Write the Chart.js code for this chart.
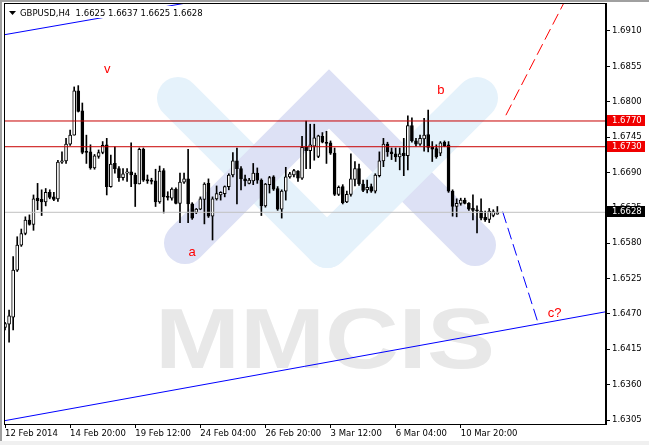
<!DOCTYPE html>
<html>
<head>
<meta charset="utf-8">
<script src="https://cdn.jsdelivr.net/npm/chart.js@4.4.1/dist/chart.umd.min.js"></script>
<style>
  html, body { margin: 0; padding: 0; background: #fff; }
  #wrap { width: 649px; height: 445px; position: relative; }
</style>
</head>
<body>
<div id="wrap"><canvas id="chart"></canvas></div>
<script>
const symbol = 'GBPUSD,H4';
const lastBar = [1.6625, 1.6637, 1.6625, 1.6628];

// H4 bars, oldest first
const opens = [
  1.6449, 1.6454, 1.6465, 1.6538, 1.6577, 1.6595, 1.6616, 1.6609, 1.6650, 1.6648,
  1.6644, 1.6659, 1.6652, 1.6649, 1.6706, 1.6708, 1.6734, 1.6748, 1.6817, 1.6786,
  1.6723, 1.6722, 1.6697, 1.6715, 1.6721, 1.6733, 1.6668, 1.6704, 1.6696, 1.6682,
  1.6689, 1.6691, 1.6686, 1.6672, 1.6726, 1.6679, 1.6678, 1.6677, 1.6644, 1.6693,
  1.6653, 1.6650, 1.6664, 1.6642, 1.6675, 1.6680, 1.6641, 1.6628, 1.6633, 1.6648,
  1.6673, 1.6622, 1.6649, 1.6655, 1.6657, 1.6668, 1.6686, 1.6708, 1.6696, 1.6680,
  1.6673, 1.6677, 1.6689, 1.6678, 1.6638, 1.6671, 1.6683, 1.6665, 1.6633, 1.6661,
  1.6683, 1.6686, 1.6692, 1.6681, 1.6730, 1.6724, 1.6731, 1.6715, 1.6746, 1.6737,
  1.6736, 1.6720, 1.6656, 1.6668, 1.6644, 1.6656, 1.6679, 1.6696, 1.6672, 1.6663,
  1.6668, 1.6661, 1.6685, 1.6708, 1.6734, 1.6722, 1.6719, 1.6714, 1.6720, 1.6716,
  1.6763, 1.6739, 1.6734, 1.6742, 1.6749, 1.6729, 1.6727, 1.6720, 1.6737, 1.6733,
  1.6661, 1.6637, 1.6642, 1.6647, 1.6642, 1.6634, 1.6632, 1.6630, 1.6620, 1.6617,
  1.6623, 1.6625
];
const highs = [
  1.6457, 1.6476, 1.6559, 1.6590, 1.6602, 1.6621, 1.6624, 1.6655, 1.6673, 1.6663,
  1.6665, 1.6663, 1.6659, 1.6709, 1.6722, 1.6743, 1.6756, 1.6823, 1.6825, 1.6798,
  1.6748, 1.6733, 1.6718, 1.6725, 1.6738, 1.6743, 1.6717, 1.6730, 1.6699, 1.6696,
  1.6696, 1.6736, 1.6689, 1.6728, 1.6728, 1.6686, 1.6681, 1.6695, 1.6700, 1.6696,
  1.6660, 1.6666, 1.6666, 1.6689, 1.6689, 1.6726, 1.6643, 1.6634, 1.6652, 1.6674,
  1.6680, 1.6652, 1.6669, 1.6660, 1.6669, 1.6688, 1.6721, 1.6728, 1.6699, 1.6686,
  1.6681, 1.6704, 1.6697, 1.6680, 1.6673, 1.6684, 1.6685, 1.6668, 1.6663, 1.6698,
  1.6690, 1.6695, 1.6693, 1.6746, 1.6770, 1.6765, 1.6765, 1.6748, 1.6752, 1.6754,
  1.6739, 1.6728, 1.6669, 1.6671, 1.6661, 1.6719, 1.6707, 1.6703, 1.6678, 1.6678,
  1.6672, 1.6688, 1.6722, 1.6743, 1.6737, 1.6728, 1.6728, 1.6728, 1.6743, 1.6778,
  1.6775, 1.6743, 1.6748, 1.6774, 1.6787, 1.6738, 1.6733, 1.6738, 1.6739, 1.6738,
  1.6663, 1.6649, 1.6650, 1.6650, 1.6643, 1.6655, 1.6638, 1.6649, 1.6630, 1.6634,
  1.6632, 1.6637
];
const lows = [
  1.6445, 1.6426, 1.6445, 1.6536, 1.6575, 1.6593, 1.6608, 1.6600, 1.6632, 1.6623,
  1.6638, 1.6649, 1.6646, 1.6645, 1.6704, 1.6704, 1.6732, 1.6748, 1.6784, 1.6719,
  1.6704, 1.6695, 1.6695, 1.6712, 1.6719, 1.6655, 1.6667, 1.6689, 1.6676, 1.6678,
  1.6676, 1.6668, 1.6637, 1.6672, 1.6676, 1.6673, 1.6672, 1.6637, 1.6642, 1.6627,
  1.6647, 1.6647, 1.6641, 1.6612, 1.6673, 1.6612, 1.6617, 1.6626, 1.6632, 1.6610,
  1.6620, 1.6585, 1.6647, 1.6647, 1.6652, 1.6663, 1.6683, 1.6641, 1.6663, 1.6669,
  1.6672, 1.6671, 1.6673, 1.6623, 1.6636, 1.6658, 1.6662, 1.6631, 1.6619, 1.6647,
  1.6681, 1.6683, 1.6676, 1.6679, 1.6696, 1.6696, 1.6709, 1.6713, 1.6736, 1.6704,
  1.6718, 1.6654, 1.6654, 1.6641, 1.6643, 1.6653, 1.6669, 1.6670, 1.6660, 1.6658,
  1.6659, 1.6658, 1.6683, 1.6699, 1.6715, 1.6710, 1.6707, 1.6694, 1.6685, 1.6694,
  1.6737, 1.6731, 1.6732, 1.6723, 1.6722, 1.6707, 1.6712, 1.6716, 1.6730, 1.6659,
  1.6622, 1.6621, 1.6639, 1.6641, 1.6631, 1.6616, 1.6596, 1.6616, 1.6614, 1.6612,
  1.6621, 1.6625
];
const closes = [
  1.6455, 1.6467, 1.6538, 1.6577, 1.6595, 1.6616, 1.6609, 1.6649, 1.6646, 1.6644,
  1.6659, 1.6651, 1.6648, 1.6706, 1.6708, 1.6734, 1.6748, 1.6817, 1.6785, 1.6721,
  1.6721, 1.6697, 1.6716, 1.6721, 1.6732, 1.6668, 1.6703, 1.6696, 1.6682, 1.6688,
  1.6691, 1.6686, 1.6672, 1.6726, 1.6678, 1.6677, 1.6676, 1.6644, 1.6692, 1.6652,
  1.6651, 1.6664, 1.6642, 1.6675, 1.6680, 1.6641, 1.6619, 1.6633, 1.6649, 1.6672,
  1.6622, 1.6649, 1.6657, 1.6659, 1.6668, 1.6686, 1.6708, 1.6696, 1.6680, 1.6677,
  1.6678, 1.6689, 1.6678, 1.6638, 1.6672, 1.6682, 1.6664, 1.6633, 1.6661, 1.6683,
  1.6688, 1.6693, 1.6681, 1.6729, 1.6724, 1.6733, 1.6744, 1.6747, 1.6737, 1.6735,
  1.6720, 1.6656, 1.6667, 1.6643, 1.6656, 1.6680, 1.6696, 1.6672, 1.6662, 1.6667,
  1.6661, 1.6686, 1.6708, 1.6734, 1.6722, 1.6719, 1.6714, 1.6719, 1.6716, 1.6763,
  1.6739, 1.6734, 1.6743, 1.6748, 1.6729, 1.6726, 1.6714, 1.6736, 1.6731, 1.6661,
  1.6637, 1.6642, 1.6647, 1.6642, 1.6633, 1.6631, 1.6630, 1.6619, 1.6616, 1.6630,
  1.6629, 1.6628
];

const timeLabels = ['12 Feb 2014', '14 Feb 20:00', '19 Feb 12:00', '24 Feb 04:00',
  '26 Feb 20:00', '3 Mar 12:00', '6 Mar 04:00', '10 Mar 20:00'];
const timeTickBars = [0, 16, 32, 48, 64, 80, 96, 112];
const priceTicks = [1.6305, 1.6360, 1.6415, 1.6470, 1.6525, 1.6580, 1.6635,
  1.6690, 1.6745, 1.6800, 1.6855, 1.6910];

const levels = [1.6770, 1.6730];
const bid = 1.6628;

const channelLow = [{x: -0.3, y: 1.63037}, {x: 147.7, y: 1.64734}];
const channelHigh = [{x: -0.3, y: 1.6904}, {x: 45, y: 1.6954}];
const upPath = [{x: 123.1, y: 1.6779}, {x: 137.3, y: 1.6953}];
const downPath = [{x: 122.3, y: 1.6629}, {x: 131.0, y: 1.6456}];

const waveLabels = ['v', 'a', 'b', 'c?'];
const waveBars = [25.1, 46.0, 107.1, 135.1];
const wavePrices = [1.6850, 1.6566, 1.6818, 1.6471];

const xMin = -0.25, xMax = 147.7;
const yMin = 1.62988, yMax = 1.69535;

const font = { family: '"DejaVu Sans", sans-serif', size: 8.5 };
const fontCss = '8.5px "DejaVu Sans", sans-serif';

function levelLine(price, color) {
  return {
    type: 'line',
    data: [{x: xMin, y: price}, {x: xMax, y: price}],
    borderColor: color,
    borderWidth: 1,
    pointRadius: 0,
    order: 1,
  };
}

function drawWatermark(ctx, area) {
  ctx.save();
  ctx.beginPath();
  ctx.rect(area.left, area.top, area.right - area.left, area.bottom - area.top);
  ctx.clip();
  ctx.lineWidth = 42;
  ctx.lineCap = 'round';
  ctx.lineJoin = 'miter';

  ctx.strokeStyle = '#e5f2fb';
  ctx.beginPath();
  ctx.moveTo(178, 98);
  ctx.lineTo(327, 247);
  ctx.stroke();

  ctx.strokeStyle = '#dde1f5';
  ctx.beginPath();
  ctx.moveTo(185, 243);
  ctx.lineTo(329, 99);
  ctx.lineTo(475, 245);
  ctx.stroke();

  ctx.strokeStyle = '#e5f2fb';
  ctx.beginPath();
  ctx.moveTo(327, 247);
  ctx.lineTo(477, 98);
  ctx.stroke();

  ctx.fillStyle = '#e8e8e8';
  ctx.font = 'bold 85px "Liberation Sans", sans-serif';
  ctx.textBaseline = 'alphabetic';
  const w = ctx.measureText('MMCIS').width;
  ctx.translate(155, 368);
  ctx.scale(340 / w, 1);
  ctx.fillText('MMCIS', 0, 0);
  ctx.restore();
}

const backdrop = {
  id: 'backdrop',
  beforeDraw(chart) {
    const ctx = chart.ctx;
    ctx.save();
    ctx.fillStyle = '#fff';
    ctx.fillRect(0, 0, chart.width, chart.height);
    ctx.fillStyle = '#a0a0a0';
    ctx.fillRect(0, 0, chart.width, 2);
    ctx.fillRect(0, 0, 2, chart.height);
    ctx.fillStyle = '#f0f0f0';
    ctx.fillRect(0, 441, chart.width, 4);
    ctx.restore();
    drawWatermark(ctx, chart.chartArea);
  },
  afterDraw(chart) {
    const ctx = chart.ctx;
    const a = chart.chartArea;
    const xs = chart.scales.x;
    const ys = chart.scales.y;
    ctx.save();

    // frame
    ctx.strokeStyle = '#000';
    ctx.lineWidth = 1;
    ctx.strokeRect(a.left + 0.5, a.top + 0.5, a.right - a.left - 1, a.bottom - a.top);

    // wave labels
    ctx.fillStyle = '#ff0000';
    ctx.font = '13px "Liberation Sans", sans-serif';
    ctx.textAlign = 'center';
    ctx.textBaseline = 'middle';
    waveLabels.forEach((t, i) => {
      ctx.fillText(t, xs.getPixelForValue(waveBars[i]), ys.getPixelForValue(wavePrices[i]));
    });

    // title
    ctx.fillStyle = '#fff';
    ctx.fillRect(a.left + 1, 6, 202, 12);
    ctx.fillStyle = '#000';
    ctx.beginPath();
    ctx.moveTo(9, 11);
    ctx.lineTo(16, 11);
    ctx.lineTo(12.5, 15);
    ctx.closePath();
    ctx.fill();
    ctx.font = fontCss;
    ctx.textAlign = 'left';
    ctx.fillText(symbol + '  ' + lastBar.map(v => v.toFixed(4)).join(' '), 20, 13.5);

    // price tags on the axis
    const tag = (price, bg) => {
      const y = Math.round(ys.getPixelForValue(price));
      ctx.fillStyle = bg;
      ctx.fillRect(a.right + 1, y - 6, 38, 11);
      ctx.fillStyle = '#fff';
      ctx.textBaseline = 'middle';
      ctx.fillText(price.toFixed(4), a.right + 6, y);
    };
    levels.forEach(p => tag(p, '#f00000'));
    tag(bid, '#000');
    ctx.restore();
  }
};

const wickData = highs.map((h, i) => ({x: i, y: [lows[i], h]}));
const bodyData = opens.map((o, i) => ({x: i, y: [o, closes[i]]}));
const bodyFill = opens.map((o, i) => (closes[i] >= o ? '#fff' : '#000'));

new Chart(document.getElementById('chart'), {
  type: 'bar',
  data: {
    datasets: [
      {
        type: 'bar',
        data: wickData,
        backgroundColor: '#000',
        barThickness: 1,
        grouped: false,
        order: 3,
      },
      {
        type: 'bar',
        data: bodyData,
        backgroundColor: bodyFill,
        borderColor: '#000',
        borderWidth: 1,
        borderSkipped: false,
        barThickness: 3,
        minBarLength: 1,
        grouped: false,
        order: 2,
      },
      ...levels.map(p => levelLine(p, '#c80000')),
      levelLine(bid, '#c0c0c0'),
      {
        type: 'line', data: channelLow, borderColor: '#0000ff', borderWidth: 1,
        pointRadius: 0, order: 1,
      },
      {
        type: 'line', data: channelHigh, borderColor: '#0000ff', borderWidth: 1,
        pointRadius: 0, order: 1,
      },
      {
        type: 'line', data: upPath, borderColor: '#ff0000', borderWidth: 1,
        borderDash: [12, 5], pointRadius: 0, order: 1,
      },
      {
        type: 'line', data: downPath, borderColor: '#0000ff', borderWidth: 1,
        borderDash: [12, 5], pointRadius: 0, order: 1,
      },
    ],
  },
  options: {
    responsive: true,
    maintainAspectRatio: false,
    animation: false,
    layout: { padding: { left: 4, top: 3, right: 0, bottom: 0 } },
    plugins: { legend: { display: false }, tooltip: { enabled: false } },
    scales: {
      x: {
        type: 'linear',
        min: xMin,
        max: xMax,
        offset: false,
        afterBuildTicks: s => { s.ticks = timeTickBars.map(v => ({value: v})); },
        afterFit: s => { s.height = 21; s.paddingLeft = 0; s.paddingRight = 0; },
        grid: { drawOnChartArea: false, tickLength: 4, color: '#000', offset: false },
        border: { display: true, color: '#000' },
        ticks: {
          align: 'start', maxRotation: 0, autoSkip: false, padding: 1,
          color: '#000', font: font,
          callback: (v, i) => timeLabels[i],
        },
      },
      y: {
        position: 'right',
        min: yMin,
        max: yMax,
        afterBuildTicks: s => { s.ticks = priceTicks.map(v => ({value: v})); },
        afterFit: s => { s.width = 43; s.paddingTop = 0; s.paddingBottom = 0; },
        grid: { drawOnChartArea: false, tickLength: 4, color: '#000' },
        border: { display: true, color: '#000' },
        ticks: { padding: 2, color: '#000', font: font, callback: v => v.toFixed(4) },
      },
    },
  },
  plugins: [backdrop],
});
</script>
</body>
</html>
